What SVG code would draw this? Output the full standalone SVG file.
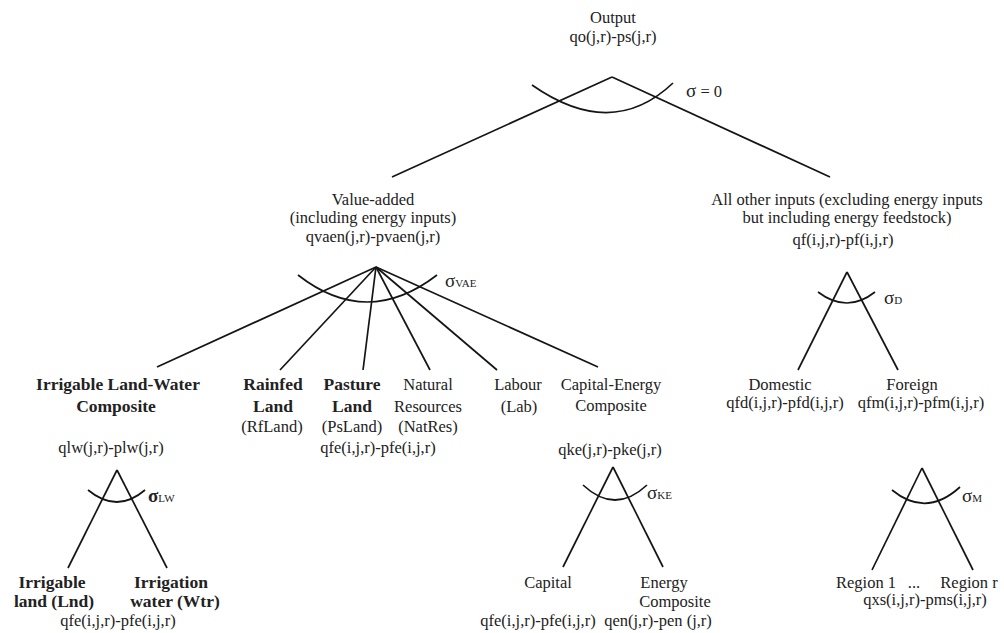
<svg xmlns="http://www.w3.org/2000/svg" width="1004" height="633" viewBox="0 0 1004 633">
<style>
text{font-family:"Liberation Serif","Times New Roman",serif;font-size:16.5px;fill:#222;text-anchor:middle}
.b{font-weight:bold;font-size:17.5px}
.s{text-anchor:start}
.sg{font-size:19px}
.sub{font-size:11px}
.con line,.con path{stroke:#151515;stroke-width:1.7;fill:none}
</style>
<rect width="1004" height="633" fill="#fff"/>
<g class="con" id="connectors">
<line x1="612" y1="77" x2="392" y2="177"/>
<line x1="612" y1="77" x2="830" y2="177"/>
<path d="M532,85 Q612,141 673,83"/>
<line x1="376" y1="267" x2="157" y2="367"/>
<line x1="376" y1="267" x2="280" y2="370"/>
<line x1="376" y1="267" x2="363" y2="370"/>
<line x1="376" y1="267" x2="430" y2="370"/>
<line x1="376" y1="267" x2="497" y2="370"/>
<line x1="376" y1="267" x2="598" y2="367"/>
<path d="M298,275 Q367,329 437,275"/>
<line x1="847" y1="272" x2="798" y2="370"/>
<line x1="847" y1="272" x2="898" y2="370"/>
<path d="M818,292 Q847,314 875,292"/>
<line x1="117" y1="470" x2="68" y2="568"/>
<line x1="117" y1="470" x2="167" y2="568"/>
<path d="M88,490 Q117,514 145,490"/>
<line x1="613" y1="467" x2="563" y2="567"/>
<line x1="613" y1="467" x2="663" y2="567"/>
<path d="M583,485 Q615,515 647,485"/>
<line x1="922" y1="468" x2="872" y2="570"/>
<line x1="922" y1="468" x2="973" y2="570"/>
<path d="M892,490 Q926,518 960,487"/>
</g>
<g id="n-output">
<text x="613" y="23">Output</text>
<text x="613" y="42">qo(j,r)-ps(j,r)</text>
<text class="s" x="686" y="97"><tspan class="sg">σ</tspan> = 0</text>
</g>
<g id="n-va">
<text x="373" y="205">Value-added</text>
<text x="373" y="223">(including energy inputs)</text>
<text x="373" y="242">qvaen(j,r)-pvaen(j,r)</text>
<text class="s" x="445" y="287"><tspan class="sg">σ</tspan><tspan class="sub">VAE</tspan></text>
</g>
<g id="n-other">
<text x="847" y="205">All other inputs (excluding energy inputs</text>
<text x="847" y="223">but including energy feedstock)</text>
<text x="843" y="245">qf(i,j,r)-pf(i,j,r)</text>
<text class="s" x="884" y="304"><tspan class="sg">σ</tspan><tspan class="sub">D</tspan></text>
</g>
<g id="n-lw">
<text class="b" x="118" y="390">Irrigable Land-Water</text>
<text class="b" x="116" y="412">Composite</text>
<text x="111" y="453">qlw(j,r)-plw(j,r)</text>
<text class="s" x="148" y="502"><tspan class="sg" style="font-weight:bold">σ</tspan><tspan class="sub">LW</tspan></text>
</g>
<g id="n-rainfed">
<text class="b" x="273" y="390">Rainfed</text>
<text class="b" x="273" y="412">Land</text>
<text x="272" y="432">(RfLand)</text>
</g>
<g id="n-pasture">
<text class="b" x="352" y="390">Pasture</text>
<text class="b" x="352" y="412">Land</text>
<text x="352" y="432">(PsLand)</text>
<text x="378" y="453">qfe(i,j,r)-pfe(i,j,r)</text>
</g>
<g id="n-natres">
<text x="428" y="390">Natural</text>
<text x="428" y="412">Resources</text>
<text x="428" y="432">(NatRes)</text>
</g>
<g id="n-labour">
<text x="518" y="390">Labour</text>
<text x="519" y="412">(Lab)</text>
</g>
<g id="n-ke">
<text x="611" y="390">Capital-Energy</text>
<text x="611" y="411">Composite</text>
<text x="610" y="455">qke(j,r)-pke(j,r)</text>
<text class="s" x="647" y="499"><tspan class="sg">σ</tspan><tspan class="sub">KE</tspan></text>
</g>
<g id="n-domestic">
<text x="780" y="390">Domestic</text>
<text x="785" y="408">qfd(i,j,r)-pfd(i,j,r)</text>
</g>
<g id="n-foreign">
<text x="912" y="390">Foreign</text>
<text x="921" y="408">qfm(i,j,r)-pfm(i,j,r)</text>
<text class="s" x="962" y="502"><tspan class="sg">σ</tspan><tspan class="sub">M</tspan></text>
</g>
<g id="n-lnd">
<text class="b" x="52" y="588">Irrigable</text>
<text class="b" x="54" y="607">land (Lnd)</text>
<text x="118" y="626">qfe(i,j,r)-pfe(i,j,r)</text>
</g>
<g id="n-wtr">
<text class="b" x="171" y="588">Irrigation</text>
<text class="b" x="175" y="607">water (Wtr)</text>
</g>
<g id="n-capital">
<text x="548" y="588">Capital</text>
<text x="538" y="626">qfe(i,j,r)-pfe(i,j,r)</text>
</g>
<g id="n-energy">
<text x="664" y="588">Energy</text>
<text x="675" y="607">Composite</text>
<text x="658" y="626">qen(j,r)-pen (j,r)</text>
</g>
<g id="n-regions">
<text x="866" y="588">Region 1</text>
<text x="914" y="588">...</text>
<text x="969" y="588">Region r</text>
<text x="925" y="605">qxs(i,j,r)-pms(i,j,r)</text>
</g>
</svg>
